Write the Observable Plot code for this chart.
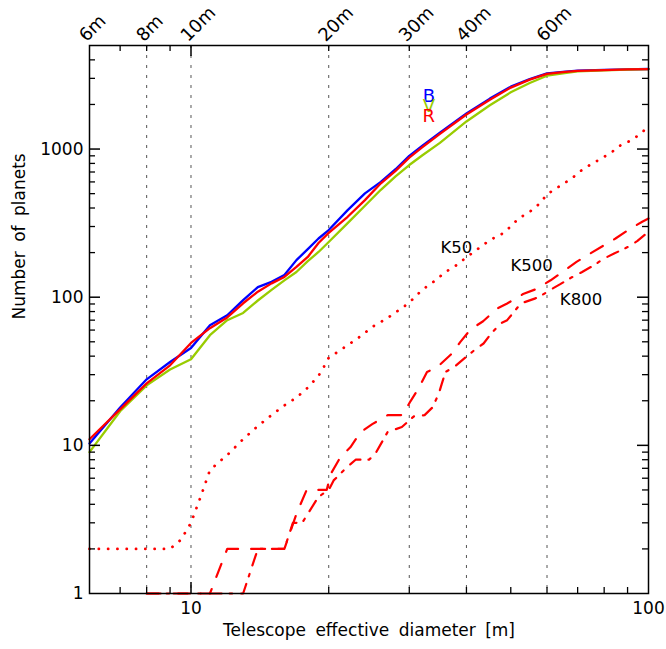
<!DOCTYPE html>
<html>
<head>
<meta charset="utf-8">
<script src="https://cdn.jsdelivr.net/npm/d3@7"></script>
<script src="https://cdn.jsdelivr.net/npm/@observablehq/plot@0.6"></script>
<style>
  body { margin: 0; background: #fff; }
  #chart svg { display: block; }
</style>
</head>
<body>
<div id="chart"></div>
<script>
// Number of detectable planets vs telescope effective diameter, per band and per K-limit.
const diameters = [6, 7, 8, 9, 10, 11, 12, 13, 14, 15, 16, 17, 18, 19, 20, 22, 24, 26, 28, 30, 32, 35, 40, 45, 50, 55, 60, 65, 70, 80, 90, 100];
const bBand = [10.3, 18, 27.9, 36.5, 45.4, 64.7, 75.5, 95.5, 117, 127, 141, 178, 211, 249, 284, 387, 502, 601, 731, 900, 1050, 1290, 1740, 2190, 2636, 2966, 3242, 3320, 3380, 3420, 3450, 3470];
const vBand = [9.0, 17, 25.4, 32.5, 38.1, 55.4, 69.9, 78.3, 95, 112, 130, 148, 175, 202, 236, 316, 414, 531, 654, 780, 905, 1100, 1535, 1975, 2416, 2793, 3127, 3245, 3340, 3400, 3440, 3460];
const rBand = [11, 17.5, 26.2, 34.7, 49.1, 61.8, 73, 91, 109, 124, 137, 160, 187, 232, 272, 349, 452, 587, 713, 875, 1025, 1265, 1710, 2150, 2600, 2940, 3220, 3305, 3370, 3415, 3445, 3468];

const k50Diam = [6, 9, 9.5, 10, 10.5, 11, 11.5, 12, 13, 14, 15, 16, 17, 18, 19, 19.5, 20, 21, 22, 23, 24, 25, 26, 27, 28, 29, 30, 32, 34, 36, 38, 40, 43, 45, 48, 50, 52, 55, 58, 60, 65, 68, 71, 75, 79, 83, 87, 92, 97, 100];
const k50Count = [2, 2, 2.3, 3, 4.5, 6.8, 7.7, 8.6, 11, 13.5, 16, 18.6, 21, 24.5, 29.5, 33.7, 39, 43, 47.5, 52, 57.5, 63.5, 68, 73, 79, 85, 92, 112, 128, 148, 164, 186, 219, 243, 269, 300, 340, 377, 432, 495, 580, 634, 710, 792, 865, 950, 1064, 1150, 1300, 1440];

const k500Diam = [8, 11, 12, 16, 17, 17.9, 19.8, 20.2, 21.2, 22.3, 23.5, 24.9, 26.9, 29, 30.2, 31.5, 32.8, 34.5, 37.2, 38.8, 40.8, 43.5, 46.7, 49.1, 53.2, 56.6, 61.1, 64.8, 69.6, 73.5, 79.9, 84.7, 91.4, 96.9, 100];
const k500Count = [1, 1, 2, 2, 3.45, 5, 5, 6.4, 8.3, 9.7, 12.3, 13.9, 16, 16, 19.9, 24.5, 31.3, 33.6, 41.7, 49.9, 60.5, 68.8, 83.9, 90.7, 105, 113, 130, 148, 173, 192, 224, 249, 291, 323, 340];

const k800Diam = [8, 13, 14, 16, 16.7, 17.5, 19, 20, 20.5, 21.8, 22.9, 24.5, 25.3, 26.9, 28.9, 30.7, 32.4, 33.7, 34.8, 35.3, 36, 37.8, 39.4, 41.6, 43.6, 45, 47.4, 49.1, 52.6, 56.6, 59, 61, 64, 67, 71.6, 75.9, 79.8, 84.1, 90.3, 94.6, 98.8, 100];
const k800Count = [1, 1, 2, 2, 3, 3, 4.5, 5, 5.8, 7, 8, 8, 8.8, 12.3, 13.3, 15.7, 16, 18, 22.3, 25.8, 31.3, 34.2, 38.2, 43.8, 48.7, 55.4, 66.3, 70, 90.7, 98.2, 105, 112, 122, 133, 148, 164, 182, 197, 219, 240, 268, 275];

// Axis ticks and labels
const gridDiam = [8, 10, 20, 30, 40, 60];
const topLabels = [6, 8, 10, 20, 30, 40, 60];
const xMinor = [7, 8, 9, 20, 30, 40, 50, 60, 70, 80, 90];
const xMajor = [10];
const xLabels = [10, 100];
const yMinor = [2, 3, 4, 5, 6, 7, 8, 9, 20, 30, 40, 50, 60, 70, 80, 90, 200, 300, 400, 500, 600, 700, 800, 900, 2000, 3000, 4000];
const yMajor = [10, 100, 1000];
const yLabels = [1, 10, 100, 1000];

const W = 666, H = 649;
const mL = 89, mR = 18, mT = 45, mB = 56;
const innerW = W - mL - mR, innerH = H - mT - mB;
const minorLen = 6, majorLen = 11;

const rows = (xs, ys) => xs.map((d, i) => ({d, n: ys[i]}));
const font = "DejaVu Sans, Liberation Sans, sans-serif";

const chart = Plot.plot({
  width: W,
  height: H,
  marginLeft: mL, marginRight: mR, marginTop: mT, marginBottom: mB,
  x: {type: "log", domain: [6, 100], axis: null},
  y: {type: "log", domain: [1, 5000], axis: null},
  style: {fontFamily: font, fontSize: "17px", background: "#fff", color: "#000", wordSpacing: "4px"},
  marks: [
    // vertical reference lines at the marked diameters
    Plot.ruleX(gridDiam, {x: d => d, stroke: "#555", strokeWidth: 1, strokeDasharray: "3,7"}),

    // K-limited counts
    Plot.line(rows(k50Diam, k50Count), {x: "d", y: "n", stroke: "#ff0000", strokeWidth: 2.8, strokeLinecap: "round", strokeDasharray: "0.1,9.2"}),
    Plot.line(rows(k500Diam, k500Count), {x: "d", y: "n", stroke: "#ff0000", strokeWidth: 2.2, strokeDasharray: "14,13"}),
    Plot.line(rows(k800Diam, k800Count), {x: "d", y: "n", stroke: "#ff0000", strokeWidth: 2.2, strokeDasharray: "12,8,2.5,9"}),

    // band-limited counts
    Plot.line(rows(diameters, bBand), {x: "d", y: "n", stroke: "#0000ff", strokeWidth: 2.3, strokeLinejoin: "round"}),
    Plot.line(rows(diameters, vBand), {x: "d", y: "n", stroke: "#99cc00", strokeWidth: 2.3, strokeLinejoin: "round"}),
    Plot.line(rows(diameters, rBand), {x: "d", y: "n", stroke: "#ff0000", strokeWidth: 2.3, strokeLinejoin: "round"}),

    // frame and ticks on all four sides
    Plot.frame({stroke: "#000", strokeWidth: 1.5}),
    Plot.tickX(xMinor, {x: d => d, insetTop: innerH - minorLen, stroke: "#000", strokeWidth: 1.3}),
    Plot.tickX(xMinor, {x: d => d, insetBottom: innerH - minorLen, stroke: "#000", strokeWidth: 1.3}),
    Plot.tickX(xMajor, {x: d => d, insetTop: innerH - majorLen, stroke: "#000", strokeWidth: 1.5}),
    Plot.tickX(xMajor, {x: d => d, insetBottom: innerH - majorLen, stroke: "#000", strokeWidth: 1.5}),
    Plot.tickY(yMinor, {y: d => d, insetRight: innerW - minorLen, stroke: "#000", strokeWidth: 1.3}),
    Plot.tickY(yMinor, {y: d => d, insetLeft: innerW - minorLen, stroke: "#000", strokeWidth: 1.3}),
    Plot.tickY(yMajor, {y: d => d, insetRight: innerW - majorLen, stroke: "#000", strokeWidth: 1.5}),
    Plot.tickY(yMajor, {y: d => d, insetLeft: innerW - majorLen, stroke: "#000", strokeWidth: 1.5}),

    // tick labels
    Plot.text(yLabels, {y: d => d, text: d => String(d), frameAnchor: "left", textAnchor: "end", dx: -6, fontSize: 17}),
    Plot.text(xLabels, {x: d => d, text: d => String(d), frameAnchor: "bottom", dy: 20, fontSize: 17}),
    Plot.text(topLabels, {x: d => d, text: d => d + "m", frameAnchor: "top", textAnchor: "start", lineAnchor: "bottom", rotate: -45, dx: -3, dy: -3, fontSize: 18}),

    // axis titles
    Plot.text(["Telescope effective diameter [m]"], {frameAnchor: "bottom", dy: 42, fontSize: 17, text: d => d}),
    Plot.text(["Number of planets"], {frameAnchor: "left", dx: -70, rotate: -90, fontSize: 17, text: d => d}),

    // series labels (V sits partly hidden behind R)
    Plot.text(["B"], {x: 33.1, y: 2256, text: d => d, fill: "#0000ff", fontSize: 18}),
    Plot.text(["V"], {x: 33.1, y: 1953, text: d => d, fill: "#99cc00", fontSize: 18}),
    Plot.text(["R"], {x: 33.1, y: 1663, text: d => d, fill: "#ff0000", fontSize: 18}),
    Plot.text(["K50"], {x: 35.1, y: 216, text: d => d, textAnchor: "start", fontSize: 16.5}),
    Plot.text(["K500"], {x: 49.9, y: 162, text: d => d, textAnchor: "start", fontSize: 16.5}),
    Plot.text(["K800"], {x: 64, y: 96.7, text: d => d, textAnchor: "start", fontSize: 16.5})
  ]
});

document.getElementById("chart").appendChild(chart);
</script>
</body>
</html>
